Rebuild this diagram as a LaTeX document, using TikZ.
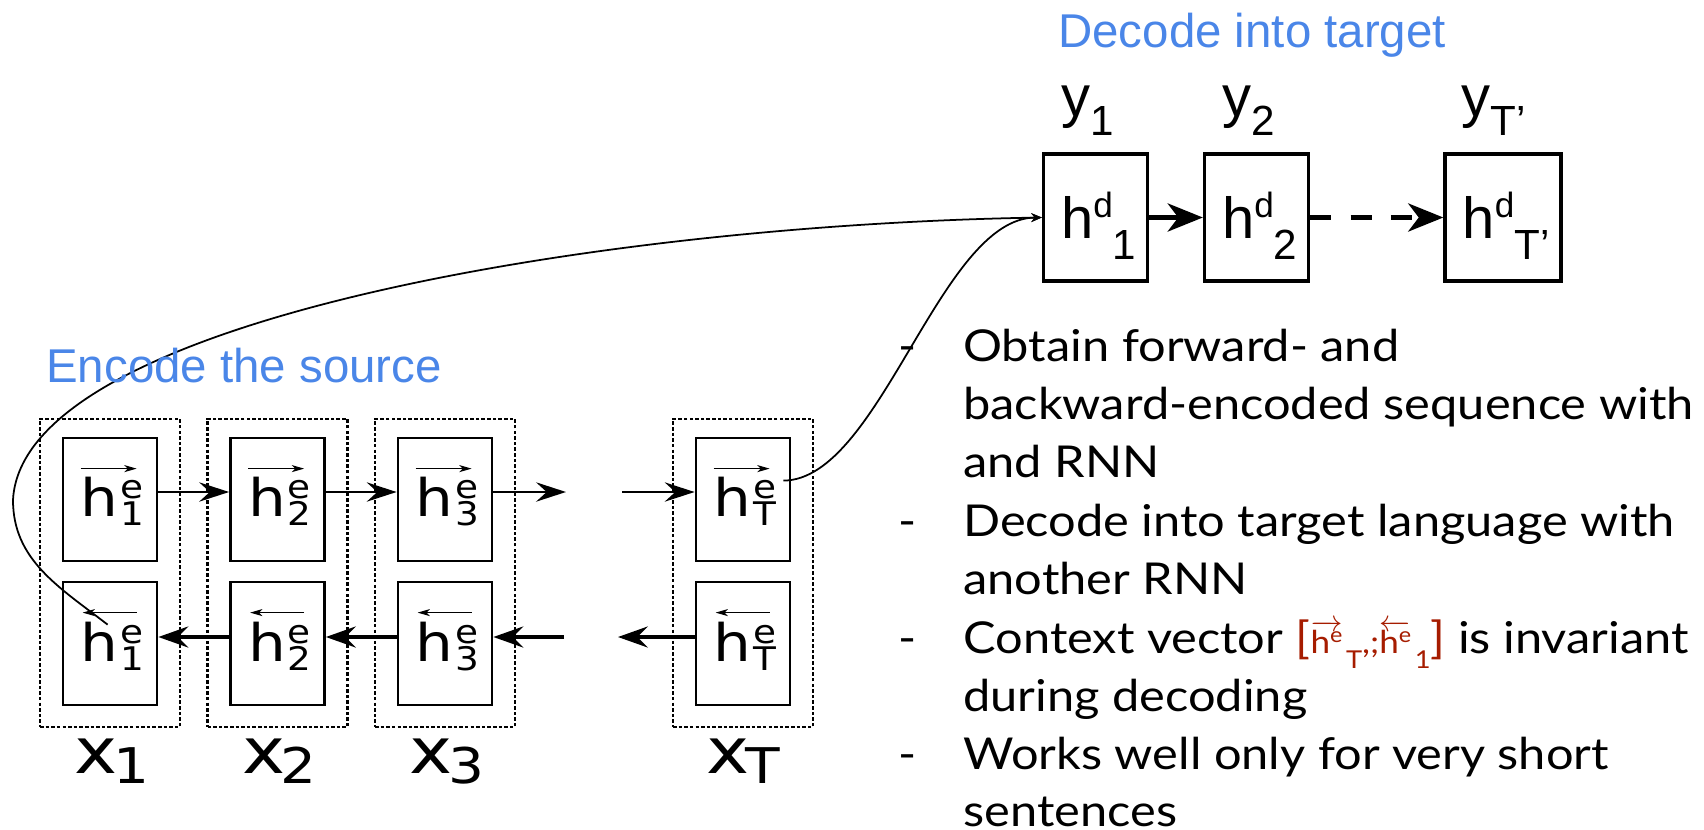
\documentclass[tikz,border=0pt]{standalone}
\usepackage{fontspec}
\usetikzlibrary{arrows.meta,calc}
\setmainfont{Liberation Sans}
\newfontfamily\dejavuwide[FakeStretch=1.15]{DejaVu Sans}
\newfontfamily\arialfam{Liberation Sans}
\newfontfamily\slidefont[FakeStretch=1.11]{Lato}
\definecolor{titleblue}{HTML}{4A86E8}
\definecolor{ctxred}{HTML}{A61C00}

% encoder state label: h with stacked superscript e and subscript
\newcommand\enclab[1]{{\dejavuwide\fontsize{29.5}{29.5}\selectfont h\kern1pt\rlap{\raisebox{10.5pt}{\fontsize{18.5}{18.5}\selectfont e}}\raisebox{-5pt}{\fontsize{18.5}{18.5}\selectfont #1}}}
% encoder input label
\newcommand\xlab[1]{{\dejavuwide\fontsize{36}{36}\selectfont x\kern-2.5pt\raisebox{-5.7pt}{\fontsize{28}{28}\selectfont #1}}}
% decoder state and output labels
\newcommand\declab[1]{{\arialfam\fontsize{33}{33}\selectfont h\raisebox{12pt}{\fontsize{20}{20}\selectfont d}\raisebox{-12pt}{\fontsize{24}{24}\selectfont #1}}}
\newcommand\ylab[1]{{\arialfam\fontsize{33}{33}\selectfont y\raisebox{-11pt}{\fontsize{24}{24}\selectfont #1}}}
% context vector pieces
\newcommand\ctxh[2]{{\fontsize{18}{18}\selectfont$#1{\hbox{h\raisebox{6pt}{\fontsize{12}{12}\selectfont e}}}$\kern2pt\raisebox{-9pt}{\fontsize{14}{14}\selectfont #2}}}
\newcommand\dashitem{\llap{\makebox[36.85pt][l]{-}}}

\begin{document}
\begin{tikzpicture}[x=0.02cm, y=-0.02cm,
  encbox/.style={draw, line width=1.6pt, minimum width=1.88cm, minimum height=2.46cm, inner sep=0pt},
  colframe/.style={draw, line width=1.3pt, dash pattern=on 2pt off 1.2pt, minimum width=2.8cm, minimum height=6.16cm, inner sep=0pt},
  fwd/.style={line width=1.3pt, -{Stealth[length=17pt, width=11pt, inset=6pt]}},
  bwd/.style={line width=2pt, -{Stealth[length=17pt, width=12pt, inset=6pt]}},
  vec/.style={line width=0.6pt, -{Stealth[length=7pt, width=4pt, inset=2pt]}},
  decbox/.style={draw, line width=1.9pt, minimum width=2.08cm, minimum height=2.54cm, inner sep=0pt},
  decarrow/.style={line width=2.6pt, -{Stealth[length=20pt, width=16pt, inset=6pt]}},
  ctxlink/.style={line width=1pt, -{Stealth[length=6pt, width=5pt]}},
  heading/.style={font=\fontsize{27}{27}\selectfont, text=titleblue, inner sep=0pt, anchor=base west},
  bodyline/.style={font=\slidefont\fontsize{25}{25}\selectfont, inner sep=0pt, anchor=base west},
  txt/.style={inner sep=0pt, anchor=base west}
]
\useasboundingbox (0,0) rectangle (1704,829);

% ---------- encoder ----------
\node[colframe] (g1) at (110,573) {};
\node[colframe] (g2) at (277.5,573) {};
\node[colframe] (g3) at (445,573) {};
\node[colframe] (gT) at (743,573) {};

\node[encbox] (f1) at (110,499.5) {};
\node[encbox] (f2) at (277.5,499.5) {};
\node[encbox] (f3) at (445,499.5) {};
\node[encbox] (fT) at (743,499.5) {};
\node[encbox] (b1) at (110,643.5) {};
\node[encbox] (b2) at (277.5,643.5) {};
\node[encbox] (b3) at (445,643.5) {};
\node[encbox] (bT) at (743,643.5) {};

\foreach \n/\s in {1/1,2/2,3/3,T/T}{
  \node[txt] (lf\n) at ($(f\n.north west)+(19,80)$) {\enclab{\s}};
  \node[txt] (lb\n) at ($(b\n.north west)+(19,81)$) {\enclab{\s}};
  \draw[vec] ($(f\n.north west)+(19,32)$) -- ++(56,0);
  \draw[vec] ($(b\n.north west)+(75,32)$) -- ++(-54,0);
}

\node[anchor=base] (x1) at (112,773) {\xlab{1}};
\node[anchor=base] (x2) at (279.5,773) {\xlab{2}};
\node[anchor=base] (x3) at (447,773) {\xlab{3}};
\node[anchor=base] (xT) at (743,773) {\xlab{T}};

\coordinate (rowf) at (0,492);
\coordinate (rowb) at (0,637);
\coordinate (f3out) at (566,492);
\coordinate (fTin) at (622,492);
\coordinate (b3in) at (564,637);
\coordinate (bTout) at (618,637);

\draw[fwd] (f1.east |- rowf) -- (f2.west |- rowf);
\draw[fwd] (f2.east |- rowf) -- (f3.west |- rowf);
\draw[fwd] (f3.east |- rowf) -- (f3out);
\draw[fwd] (fTin) -- (fT.west |- rowf);
\draw[bwd] (b2.west |- rowb) -- (b1.east |- rowb);
\draw[bwd] (b3.west |- rowb) -- (b2.east |- rowb);
\draw[bwd] (b3in) -- (b3.east |- rowb);
\draw[bwd] (bT.west |- rowb) -- (bTout);

% ---------- decoder ----------
\node[decbox] (d1) at (1095.5,217.5) {};
\node[decbox] (d2) at (1256.5,217.5) {};
\node[decbox, minimum width=2.32cm] (d3) at (1503,217.5) {};

\node[txt] (hd1) at ($(d1.north west)+(19,86)$) {\declab{1}};
\node[txt] (hd2) at ($(d2.north west)+(19,86)$) {\declab{2}};
\node[txt] (hd3) at ($(d3.north west)+(19,86)$) {\declab{T’}};
\node[txt] (y1) at ($(d1.north west)+(19,-36)$) {\ylab{1}};
\node[txt] (y2) at ($(d2.north west)+(19,-36)$) {\ylab{2}};
\node[txt] (y3) at ($(d3.north west)+(18,-36)$) {\ylab{T’}};

\draw[decarrow] (d1) -- (d2);
\draw[decarrow, dash pattern=on 12pt off 11pt] (d2) -- (d3);

% ---------- context links ----------
\coordinate (srcb) at ($(b1.north west)+(46,44)$);
\coordinate (srcf) at ($(fT.north east)+(-8,44)$);
\draw[ctxlink] (srcb) .. controls (59,587) and (13,560) .. (13,500)
  .. controls (22,320) and (600,225) .. (d1.west);
\draw[ctxlink] (srcf) .. controls (880,480) and (940,218) .. (d1.west);

% ---------- headings ----------
\node[heading] (dectitle) at (1058,47) {Decode into target};
\node[heading] (enctitle) at (46,382) {Encode the source};

% ---------- notes ----------
\node[bodyline] (l1) at (963,361) {\dashitem Obtain forward- and};
\node[bodyline] (l2) at (963,419.4) {backward-encoded sequence with};
\node[bodyline] (l3) at (963,477.8) {and RNN};
\node[bodyline] (l4) at (963,536.2) {\dashitem Decode into target language with};
\node[bodyline] (l5) at (963,594.6) {another RNN};
\node[bodyline] (l6) at (963,653) {\dashitem Context vector \textcolor{ctxred}{[\ctxh{\overrightarrow}{T}{\fontsize{18}{18}\selectfont ,;}\ctxh{\overleftarrow}{1}]} is invariant};
\node[bodyline] (l7) at (963,711.4) {during decoding};
\node[bodyline] (l8) at (963,769.8) {\dashitem Works well only for very short};
\node[bodyline] (l9) at (963,826.5) {sentences};
\end{tikzpicture}
\end{document}
